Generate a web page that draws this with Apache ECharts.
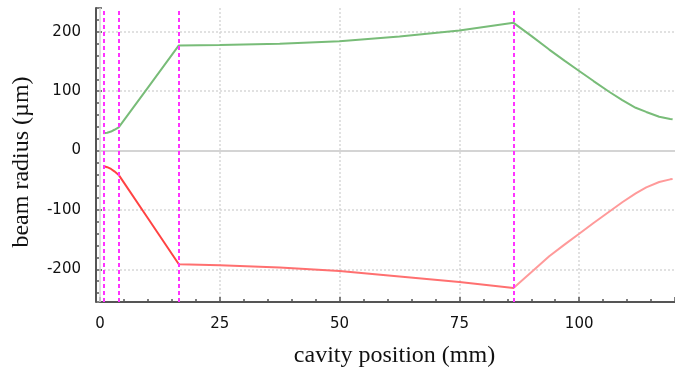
<!DOCTYPE html>
<html>
<head>
<meta charset="utf-8">
<script src="https://cdn.jsdelivr.net/npm/echarts@6/dist/echarts.min.js"></script>
<style>
  html, body { margin: 0; padding: 0; background: #fff; }
  #chart { width: 675px; height: 369px; }
</style>
</head>
<body>
<div id="chart"></div>
<script>
// cavity positions (mm)
const xPos = [0.7, 1.5, 2.3, 3.0, 3.9, 10, 16.45, 25, 37.5, 50, 62.5, 75, 86.3, 90, 93.75, 97, 100, 103, 106.25, 109, 111.8, 114, 116.7, 119, 119.5];
// beam radius, tangential plane (µm)
const radiusT = [29, 30, 32, 35, 39, 106, 177, 177.5, 180, 184, 192, 202, 215, 193, 170, 151, 134, 117, 99, 85, 72, 65, 57, 53, 52.5];
// beam radius, sagittal plane (µm), drawn negative
const radiusS = [-26, -28, -31, -35, -41, -114, -191.5, -193, -197, -203, -212, -221.5, -231.5, -205, -178, -158, -140, -122, -103, -87, -72, -62, -53, -48.5, -48];
// element positions (dashed markers)
const elements = [0.7, 3.9, 16.45, 86.3];
// colour bands along the sagittal trace
const sBands = [16.45, 86.3];

const chart = echarts.init(document.getElementById('chart'));

const axisColor = '#555555';
const gridStyle = { color: '#d8d8d8', width: 1.5, type: [2, 2] };

chart.setOption({
  animation: false,
  grid: { left: 100, right: 0, top: 8, bottom: 67, outerBoundsMode: 'none', containLabel: false },
  xAxis: {
    type: 'value',
    min: 0,
    max: 120,
    interval: 25,
    name: 'cavity position (mm)',
    nameLocation: 'middle',
    nameGap: 42,
    nameTextStyle: {
      fontFamily: 'Liberation Serif',
      fontSize: 24,
      color: '#111',
      padding: [0, 0, 0, 14],
    },
    axisLine: { onZero: false, lineStyle: { color: axisColor, width: 2 } },
    axisTick: { inside: true, length: 5, lineStyle: { color: axisColor, width: 1.5 } },
    minorTick: { show: true, splitNumber: 5, length: 3, lineStyle: { color: axisColor, width: 1.5 } },
    axisLabel: {
      margin: 15,
      fontFamily: 'DejaVu Sans',
      fontSize: 15,
      color: '#111',
      showMaxLabel: false,
    },
    splitLine: { show: true, showMinLine: false, showMaxLine: false, lineStyle: gridStyle },
  },
  yAxis: {
    type: 'value',
    min: -255,
    max: 240,
    offset: 4,
    name: 'beam radius (µm)',
    nameLocation: 'middle',
    nameGap: 62,
    nameTextStyle: {
      fontFamily: 'Liberation Serif',
      fontSize: 24,
      color: '#111',
      padding: [0, 14, 0, 0],
    },
    axisLine: { show: true, onZero: false, lineStyle: { color: axisColor, width: 2 } },
    axisTick: { show: true, inside: true, length: 6, lineStyle: { color: axisColor, width: 1.5 } },
    minorTick: { show: true, splitNumber: 5, length: 3, lineStyle: { color: axisColor, width: 1.5 } },
    axisLabel: {
      margin: 15,
      padding: [3, 0, 0, 0],
      fontFamily: 'DejaVu Sans',
      fontSize: 15,
      color: '#111',
      showMinLabel: false,
      showMaxLabel: false,
    },
    splitLine: { show: true, showMinLine: false, showMaxLine: false, lineStyle: gridStyle },
  },
  visualMap: {
    show: false,
    type: 'piecewise',
    seriesIndex: 1,
    dimension: 0,
    pieces: [
      { lt: sBands[0], color: '#ff4242' },
      { gte: sBands[0], lt: sBands[1], color: '#ff7070' },
      { gte: sBands[1], color: '#ff9a9a' },
    ],
  },
  series: [
    {
      name: 'T',
      type: 'line',
      data: xPos.map((x, i) => [x, radiusT[i]]),
      symbol: 'none',
      lineStyle: { color: '#78bc78', width: 2 },
      z: 3,
      markLine: {
        silent: true,
        symbol: 'none',
        label: { show: false },
        lineStyle: { color: '#ff33ff', width: 2, type: [4, 3] },
        data: elements.map(v => ({ xAxis: v })),
        z: 5,
      },
    },
    {
      name: 'S',
      type: 'line',
      data: xPos.map((x, i) => [x, radiusS[i]]),
      symbol: 'none',
      lineStyle: { width: 2 },
      z: 3,
      markLine: {
        silent: true,
        symbol: 'none',
        label: { show: false },
        data: [
          { yAxis: 0, lineStyle: { color: '#d4d4d4', width: 2, type: 'solid' } },
          { xAxis: 0, lineStyle: { color: '#d4d4d4', width: 1.5, type: 'solid' } },
        ],
        z: 1,
      },
    },
  ],
});
</script>
</body>
</html>
